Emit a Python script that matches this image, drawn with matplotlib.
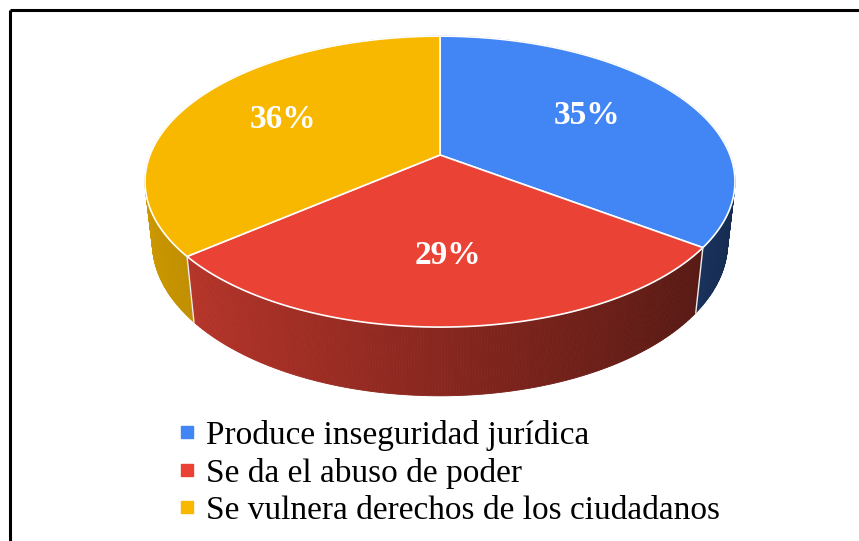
import numpy as np
import matplotlib.pyplot as plt
from matplotlib.lines import Line2D

# ---------------- data ----------------
labels = ["Produce inseguridad jurídica", "Se da el abuso de poder",
          "Se vulnera derechos de los ciudadanos"]
shares = [35, 29, 36]
colors = ["#4285F4", "#EA4335", "#F8B800"]

# ---------------- projection of a tilted 3D pie ----------------
cx, cy = 440, 155          # centre of pie on screen (px)
elev = np.radians(29)
dist = 4.78
focal = 290 * dist
height = 0.245
s, c = np.sin(elev), np.cos(elev)


def project(X, Y, Z):
    depth = dist - Y * s - Z * c
    sx = focal * X / depth
    sy = focal * (Y * c - Z * s) / depth
    return cx + sx, cy - sy, depth


def rgb(hexcol):
    hexcol = hexcol.lstrip("#")
    return np.array([int(hexcol[i:i + 2], 16) for i in (0, 2, 4)]) / 255.0


fig = plt.figure(figsize=(8.59, 5.41), dpi=100)
ax = fig.add_axes([0, 0, 1, 1])
ax.set_xlim(0, 859)
ax.set_ylim(541, 0)
ax.axis("off")

# slice angles, clockwise from top
bounds = 90 - 360 * np.cumsum([0] + shares) / 100.0

# sides: small strips, painted far to near
strips = []
for i in range(len(shares)):
    a0, a1 = bounds[i], bounds[i + 1]
    n = max(int(abs(a1 - a0) / 0.5), 2)
    th = np.radians(np.linspace(a0, a1, n + 1))
    base = rgb(colors[i])
    for k in range(n):
        t0, t1 = th[k], th[k + 1]
        tm = 0.5 * (t0 + t1)
        X0, Z0 = np.cos(t0), -np.sin(t0)
        X1, Z1 = np.cos(t1), -np.sin(t1)
        p = [project(X0, 0, Z0), project(X1, 0, Z1),
             project(X1, -height, Z1), project(X0, -height, Z0)]
        depth = np.mean([q[2] for q in p])
        fac = np.clip(0.58 - 0.255 * np.cos(tm), 0, 1)
        strips.append((depth, [(q[0], q[1]) for q in p], base * fac))
strips.sort(key=lambda t: -t[0])
for _, pts, col in strips:
    ax.add_patch(plt.Polygon(pts, closed=True, facecolor=col,
                             edgecolor=col, linewidth=0.6))

# white seams on the side at slice boundaries
for b in bounds[:-1]:
    t = np.radians(b)
    X, Z = np.cos(t), -np.sin(t)
    if Z > 0:
        p0 = project(X, 0, Z)
        p1 = project(X, -height, Z)
        ax.plot([p0[0], p1[0]], [p0[1], p1[1]], color="#EDEDED", lw=1.0)

# top faces
for i in range(len(shares)):
    a0, a1 = bounds[i], bounds[i + 1]
    th = np.radians(np.linspace(a0, a1, 200))
    pts = [project(0, 0, 0)[:2]]
    for t in th:
        pts.append(project(np.cos(t), 0, -np.sin(t))[:2])
    ax.add_patch(plt.Polygon(pts, closed=True, facecolor=colors[i],
                             edgecolor="white", linewidth=1.2,
                             joinstyle="round"))

# percentage labels
label_r = [0.6, 0.62, 0.62]
label_dx = [-1, 2, -2]
label_dy = [-3, 2, 0]
for i in range(len(shares)):
    mid = np.radians(0.5 * (bounds[i] + bounds[i + 1]))
    r = label_r[i]
    lx, ly, _ = project(r * np.cos(mid), 0, -r * np.sin(mid))
    ax.text(lx + label_dx[i], ly + label_dy[i], f"{shares[i]}%", color="white",
            fontsize=24, fontweight="bold", family="Liberation Serif",
            ha="center", va="center")

# legend
handles = [Line2D([], [], marker="s", linestyle="none", markersize=8,
                  markerfacecolor=col, markeredgecolor=col) for col in colors]
ax.legend(handles, labels, loc="upper left", bbox_to_anchor=(179 / 859, 1 - 420 / 541),
          frameon=False, prop={"family": "Liberation Serif", "size": 24},
          handlelength=0.5, handletextpad=0.3, labelspacing=0.2,
          borderpad=0, borderaxespad=0)

# frame (top and left edge only visible)
ax.plot([10, 859], [10, 10], color="black", lw=2.2, solid_capstyle="butt")
ax.plot([10, 10], [10, 541], color="black", lw=2.2, solid_capstyle="butt")

fig.savefig("out.png", dpi=100)
